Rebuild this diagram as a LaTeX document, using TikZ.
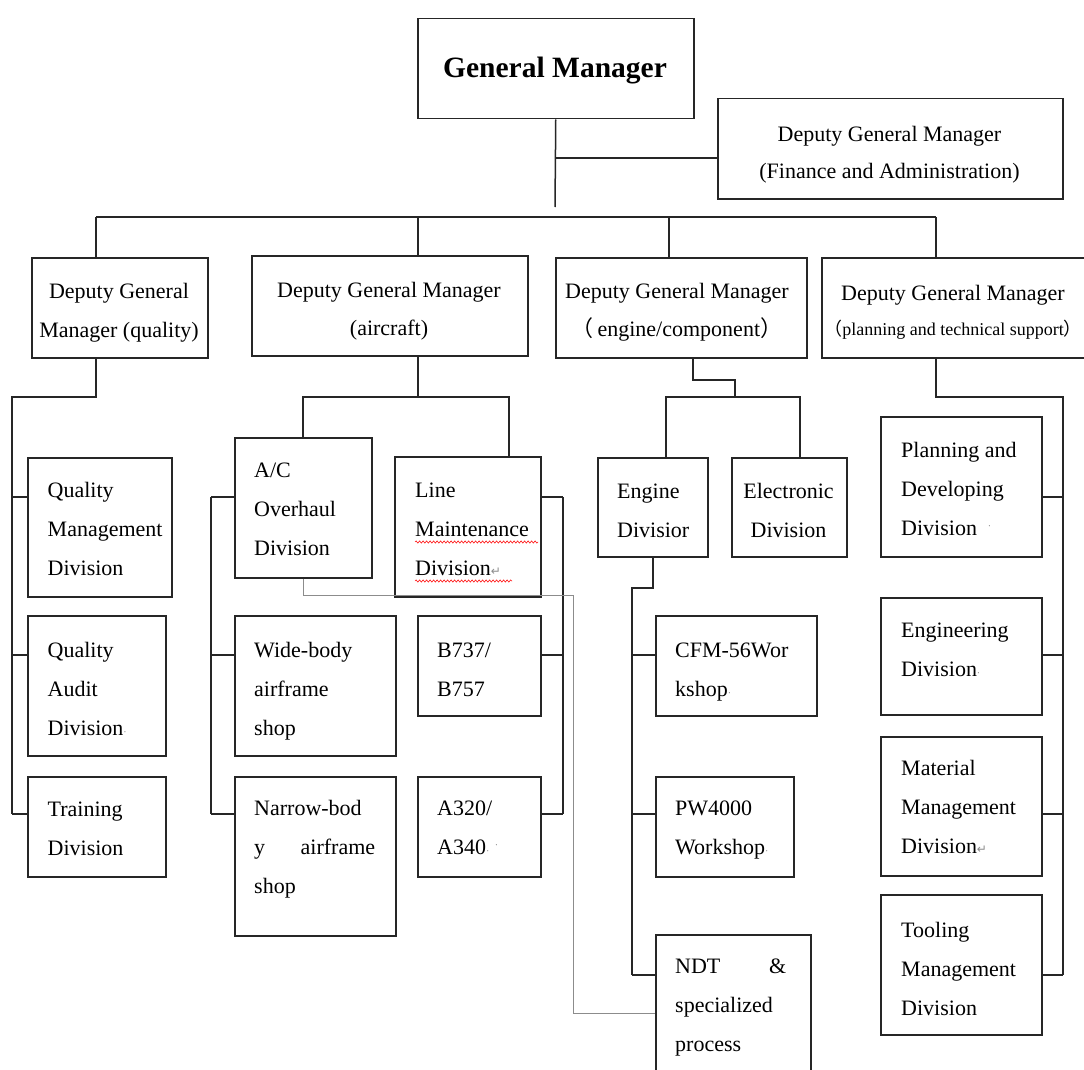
\documentclass[tikz,border=0pt]{standalone}
\usepackage{fontspec}
\setmainfont{Liberation Serif}
\newfontfamily\cjkf{Noto Sans CJK SC}
\newfontfamily\djv{DejaVu Sans}
\usetikzlibrary{decorations.pathmorphing}
\newcommand\retmark{{\djv\fontsize{12}{12}\selectfont\color{black!45}↵}}
\newcommand\dotmark{{\fontsize{10}{10}\selectfont\color{black!50}\textperiodcentered}}
\newcommand\spreadline[2]{\leavevmode\hbox to #1pt{#2}}
\newcommand\orgbox[5]{\node[obox, anchor=north west, minimum width={#4-#2}, minimum height={#5-#3}] (#1) at (#2,#3) {};}
\newcommand\lefttext[5]{\node[otxt, anchor=base west] (#1) at (#2,#3) {\parbox[t]{#4pt}{\raggedright #5}};}
\newcommand\midtext[5]{\node[otxt, anchor=base] (#1) at (#2,#3) {\parbox[t]{#4pt}{\centering #5}};}
\begin{document}
\begin{tikzpicture}[x=1pt,y=-1pt,
  obox/.style={draw=black!85, line width=1.5pt, rectangle, inner sep=0pt},
  conn/.style={draw=black!85, line width=1.5pt},
  gline/.style={draw=black!45, line width=1pt},
  otxt/.style={inner sep=0pt, font=\fontsize{22}{39}\selectfont, text=black},
  wavy/.style={draw=red!90, line width=0.6pt, decorate, decoration={snake, amplitude=1.1pt, segment length=3.5pt}}]
\fill[white] (0,0) rectangle (1084,1070);
\useasboundingbox (0,0) rectangle (1084,1070);

% top
\orgbox{gm}{417}{18}{693}{118}
\node[otxt, font=\fontsize{29.5}{30}\selectfont\bfseries, anchor=base] (gmt) at (555,78) {General Manager};
\orgbox{fa}{717}{98}{1062}{198}
\midtext{fat}{889.5}{142}{340}{Deputy General Manager\\[-3pt](Finance and Administration)}

% deputies
\orgbox{dq}{31}{257}{207}{357}
\midtext{dqt}{119}{298}{200}{Deputy General\\Manager (quality)}
\orgbox{da}{251}{255}{527}{355}
\midtext{dat}{389}{297}{270}{Deputy General Manager\\[-1pt](aircraft)}
\orgbox{de}{555}{257}{806}{357}
\midtext{det}{677}{298}{250}{Deputy General Manager\\[-1pt]{\cjkf （}\,engine/component{\cjkf ）}}
\orgbox{dp}{821}{257}{1095}{357}
\midtext{dpt}{953}{300}{270}{Deputy General Manager\\[-4pt]{\fontsize{18}{18}\selectfont{\cjkf （}planning and technical support{\cjkf ）}}}

% quality column
\orgbox{qm}{27}{457}{171}{596}
\lefttext{qmt}{47.5}{497}{200}{Quality\\Management\\Division}
\orgbox{qa}{27}{615}{165}{755}
\lefttext{qat}{47.5}{657}{200}{Quality\\Audit\\Division\dotmark}
\orgbox{tr}{27}{776}{165}{876}
\lefttext{trt}{47.5}{816}{200}{Training\\Division}

% aircraft column
\orgbox{ac}{234}{437}{371}{577}
\lefttext{act}{254}{477}{200}{A/C\\Overhaul\\Division}
\orgbox{lm}{394}{456}{540}{596}
\lefttext{lmt}{415}{497}{200}{Line\\Maintenance\\Division\retmark}
\orgbox{wb}{234}{615}{395}{755}
\lefttext{wbt}{254}{657}{200}{Wide-body\\airframe\\shop}
\orgbox{nb}{234}{776}{395}{935}
\lefttext{nbt}{254}{815}{200}{Narrow-bod\\\spreadline{121}{y\hfill airframe}\\shop}
\orgbox{bb}{417}{615}{540}{715}
\lefttext{bbt}{437}{657}{200}{B737/\\B757}
\orgbox{aa}{417}{776}{540}{876}
\lefttext{aat}{437}{815}{200}{A320/\\A340\dotmark\ \raisebox{6pt}{\dotmark}}

% engine column
\orgbox{ed}{597}{457}{707}{556}
\lefttext{edt}{617}{498}{200}{Engine\\Divisior}
\orgbox{el}{731}{457}{846}{556}
\midtext{elt}{788.5}{498}{115}{Electronic\\Division}
\orgbox{cfm}{655}{615}{816}{715}
\lefttext{cfmt}{675}{657}{200}{CFM-56Wor\\kshop\dotmark}
\orgbox{pw}{655}{776}{793}{876}
\lefttext{pwt}{675}{815}{200}{PW4000\\Workshop\dotmark}
\orgbox{ndt}{655}{934}{810}{1092}
\lefttext{ndtt}{675}{973}{200}{\spreadline{111}{NDT\hfill\&}\\specialized\\process}

% planning column
\orgbox{pd}{880}{416}{1041}{556}
\lefttext{pdt}{901}{457}{200}{Planning and\\Developing\\Division\ \ \raisebox{6pt}{\dotmark}}
\orgbox{en}{880}{597}{1041}{714}
\lefttext{ent}{901}{637}{200}{Engineering\\Division\dotmark}
\orgbox{mm}{880}{736}{1041}{875}
\lefttext{mmt}{901}{775}{200}{Material\\Management\\Division\retmark}
\orgbox{tm}{880}{894}{1041}{1034}
\lefttext{tmt}{901}{937}{200}{Tooling\\Management\\Division}

% row levels
\coordinate (r1) at (0,497);
\coordinate (r2) at (0,655);
\coordinate (r3) at (0,814);
\coordinate (r4) at (0,975);

% top connectors
\coordinate (gmj) at (555,207);
\draw[conn] (gm.south) -- (gmj);
\coordinate (faj) at (555,158);
\draw[conn] (faj) -- (faj -| fa.west);
\coordinate (bA) at (96,217);
\coordinate (bB) at (418,217);
\coordinate (bC) at (669,217);
\coordinate (bD) at (936,217);
\draw[conn] (bA) -- (bD);
\foreach \b/\d in {bA/dq,bB/da,bC/de,bD/dp} \draw[conn] (\b) -- (\b |- \d.north);

% quality
\coordinate (qj) at (96,397);
\coordinate (ql) at (12,397);
\draw[conn] (qj |- dq.south) -- (qj) -- (ql) -- (ql |- r3);
\foreach \n/\r in {qm/r1,qa/r2,tr/r3} \draw[conn] (ql |- \r) -- (\n.west |- \r);

% aircraft
\coordinate (aj) at (418,397);
\coordinate (al) at (303,397);
\coordinate (ar) at (509,397);
\draw[conn] (aj |- da.south) -- (aj);
\draw[conn] (al |- ac.north) -- (al) -- (ar) -- (ar |- lm.north);
\coordinate (alb) at (211,0);
\coordinate (arb) at (563,0);
\draw[conn] (alb |- r1) -- (alb |- r3);
\foreach \n/\r in {ac/r1,wb/r2,nb/r3} \draw[conn] (alb |- \r) -- (\n.west |- \r);
\draw[conn] (arb |- r1) -- (arb |- r3);
\foreach \n/\r in {lm/r1,bb/r2,aa/r3} \draw[conn] (\n.east |- \r) -- (arb |- \r);

% grey link
\coordinate (g1) at (573,595);
\draw[gline] (ac.south) |- (g1) |- (ndt.west);

% engine
\coordinate (ej1) at (693,380);
\coordinate (ej2) at (735,397);
\coordinate (el0) at (666,397);
\coordinate (er0) at (800,397);
\draw[conn] (ej1 |- de.south) -- (ej1) -| (ej2);
\draw[conn] (el0 |- ed.north) -- (el0) -- (er0) -- (er0 |- el.north);
\coordinate (ej3) at (632,588);
\draw[conn] (ed.south) |- (ej3) -- (ej3 |- r4);
\foreach \n/\r in {cfm/r2,pw/r3,ndt/r4} \draw[conn] (ej3 |- \r) -- (\n.west |- \r);

% planning
\coordinate (pj) at (936,397);
\coordinate (pr) at (1063,397);
\draw[conn] (pj |- dp.south) -- (pj) -- (pr) -- (pr |- r4);
\foreach \n/\r in {pd/r1,en/r2,mm/r3,tm/r4} \draw[conn] (\n.east |- \r) -- (pr |- \r);

% spell-check underlines
\draw[wavy] (415,542) -- (538,542);
\draw[wavy] (415,581) -- (512,581);
\end{tikzpicture}
\end{document}
